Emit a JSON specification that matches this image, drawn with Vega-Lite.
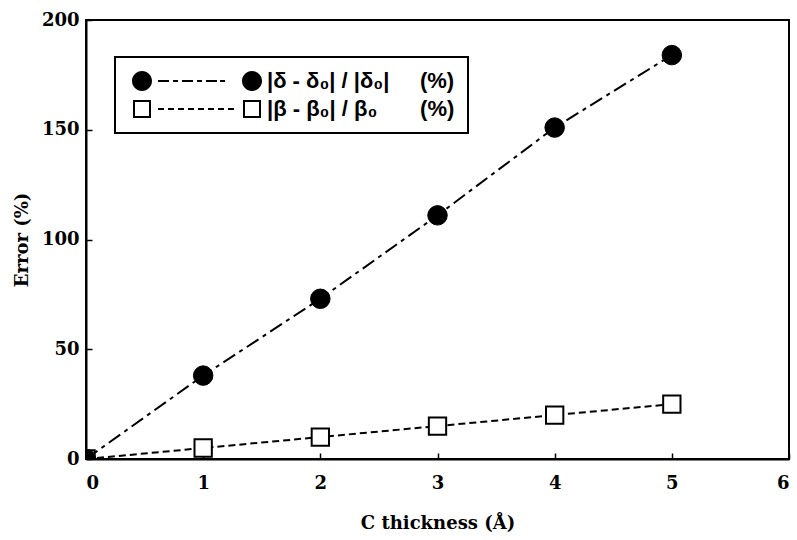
{
  "$schema": "https://vega.github.io/schema/vega-lite/v6.json",
  "width": 703,
  "height": 439,
  "autosize": {"type": "none"},
  "padding": {"left": 86, "top": 20, "right": 8, "bottom": 81},
  "background": "white",
  "config": {
    "view": {"stroke": "black", "strokeWidth": 2},
    "axis": {
      "labelFont": "DejaVu Serif",
      "labelFontWeight": "bold",
      "labelFontSize": 18,
      "labelColor": "black",
      "titleFont": "DejaVu Serif",
      "titleFontWeight": "bold",
      "titleFontSize": 18,
      "titleColor": "black",
      "domainColor": "black",
      "domainWidth": 2,
      "tickColor": "black",
      "tickWidth": 1.5,
      "tickSize": -6,
      "grid": false
    }
  },
  "data": {
    "values": [
      {"series": "beta", "x": 0, "y": 0},
      {"series": "beta", "x": 1, "y": 5},
      {"series": "beta", "x": 2, "y": 10},
      {"series": "beta", "x": 3, "y": 15},
      {"series": "beta", "x": 4, "y": 20},
      {"series": "beta", "x": 5, "y": 25},
      {"series": "delta", "x": 0, "y": 0},
      {"series": "delta", "x": 1, "y": 38},
      {"series": "delta", "x": 2, "y": 73},
      {"series": "delta", "x": 3, "y": 111},
      {"series": "delta", "x": 4, "y": 151},
      {"series": "delta", "x": 5, "y": 184}
    ]
  },
  "encoding": {
    "x": {
      "field": "x", "type": "quantitative",
      "scale": {"domain": [0, 6], "nice": false},
      "axis": {"values": [0, 1, 2, 3, 4, 5, 6], "title": "C thickness (Å)", "labelPadding": 21, "titlePadding": 22}
    },
    "y": {
      "field": "y", "type": "quantitative",
      "scale": {"domain": [0, 200], "nice": false},
      "axis": {"values": [0, 50, 100, 150, 200], "title": "Error (%)", "labelPadding": 13, "titlePadding": 10}
    }
  },
  "layer": [
    {
      "mark": {"type": "line", "color": "black", "strokeWidth": 2},
      "encoding": {
        "strokeDash": {
          "field": "series", "type": "nominal",
          "scale": {"domain": ["delta", "beta"], "range": [[14, 5, 4, 5], [7, 4]]},
          "legend": {
            "orient": "none",
            "legendX": 29,
            "legendY": 37,
            "title": null,
            "padding": 13,
            "strokeColor": "black",
            "fillColor": "white",
            "rowPadding": 6,
            "symbolSize": 400,
            "symbolOffset": 58,
            "labelOffset": 59,
            "labelFont": "Liberation Sans",
            "labelFontWeight": "bold",
            "labelFontSize": 22,
            "labelColor": "black",
            "labelLimit": 400,
            "labelExpr": "datum.value === 'delta' ? '|δ - δ₀| / |δ₀|\u00a0\u00a0\u00a0\u00a0\u00a0(%)' : '|β - β₀| / β₀\u00a0\u00a0\u00a0\u00a0\u00a0\u00a0\u00a0(%)'",
            "encoding": {
              "legend": {
                "strokeWidth": {"value": 2}
              },
              "symbols": {
                "shape": {
                  "condition": {"test": "datum.value === 'delta'", "value": "M -6.5,0 A 1,1 0 1,1 -4.5,0 A 1,1 0 1,1 -6.5,0 Z M -3.9,-0.1 H -2.8 V 0.1 H -3.9 Z M -2.4,-0.1 H -1.9 V 0.1 H -2.4 Z M -1.5,-0.1 H -0.4 V 0.1 H -1.5 Z M 0,-0.1 H 0.5 V 0.1 H 0 Z M 0.9,-0.1 H 2.0 V 0.1 H 0.9 Z M 2.3,-0.1 H 2.8 V 0.1 H 2.3 Z M 4.5,0 A 1,1 0 1,1 6.5,0 A 1,1 0 1,1 4.5,0 Z"},
                  "value": "M -6.4,-0.9 H -4.6 V 0.9 H -6.4 Z M -6.2,-0.7 V 0.7 H -4.8 V -0.7 Z M -3.9,-0.1 H -3.3 V 0.1 H -3.9 Z M -2.9,-0.1 H -2.3 V 0.1 H -2.9 Z M -1.9,-0.1 H -1.3 V 0.1 H -1.9 Z M -0.9,-0.1 H -0.3 V 0.1 H -0.9 Z M 0.1,-0.1 H 0.7 V 0.1 H 0.1 Z M 1.1,-0.1 H 1.7 V 0.1 H 1.1 Z M 2.1,-0.1 H 2.7 V 0.1 H 2.1 Z M 3.1,-0.1 H 3.7 V 0.1 H 3.1 Z M 4.6,-0.9 H 6.4 V 0.9 H 4.6 Z M 4.8,-0.7 V 0.7 H 6.2 V -0.7 Z"
                },
                "fill": {"value": "black"},
                "stroke": {"value": "transparent"},
                "strokeWidth": {"value": 0},
                "size": {"value": 400},
                "opacity": {"value": 1}
              }
            }
          }
        }
      }
    },
    {
      "transform": [{"filter": "datum.series === 'beta'"}],
      "mark": {"type": "point", "shape": "square", "filled": true, "fill": "white", "stroke": "black", "strokeWidth": 2, "opacity": 1, "size": 300, "clip": true}
    },
    {
      "transform": [{"filter": "datum.series === 'delta'"}],
      "mark": {"type": "point", "shape": "circle", "filled": true, "fill": "black", "stroke": "black", "strokeWidth": 1, "opacity": 1, "size": 380, "clip": true}
    },
    {
      "data": {"values": [{}]},
      "mark": {"type": "text", "text": "hω = 130 eV", "align": "left", "baseline": "middle", "font": "DejaVu Serif", "fontWeight": "bold", "fontSize": 22, "color": "black"},
      "encoding": {
        "x": {"datum": 0.33, "type": "quantitative"},
        "y": {"datum": 100, "type": "quantitative"}
      }
    },
    {
      "data": {"values": [{}]},
      "mark": {"type": "text", "text": "(b)", "align": "center", "baseline": "middle", "font": "Liberation Sans", "fontWeight": "bold", "fontSize": 19, "color": "black"},
      "encoding": {
        "x": {"datum": 5.56, "type": "quantitative"},
        "y": {"datum": 178, "type": "quantitative"}
      }
    }
  ]
}
